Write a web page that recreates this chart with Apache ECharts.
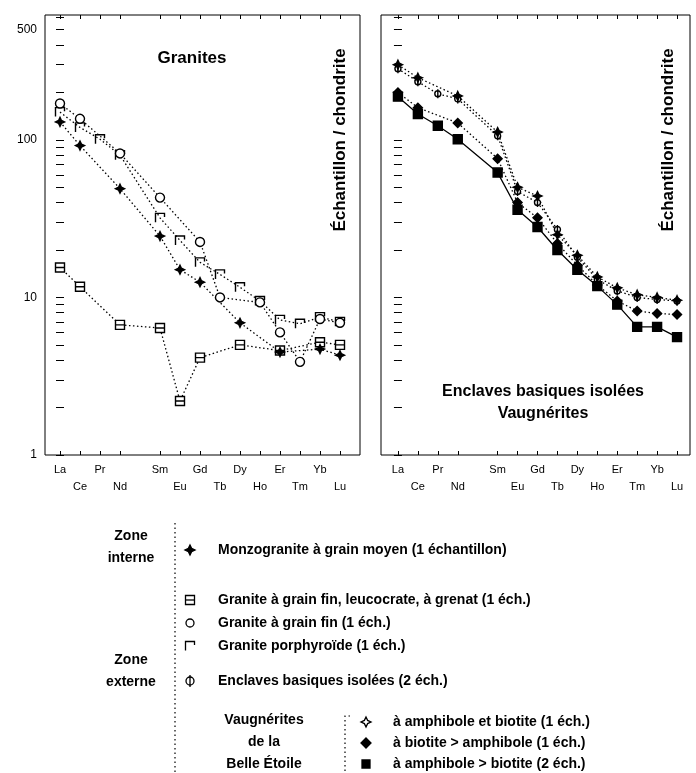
<!DOCTYPE html>
<html><head><meta charset="utf-8">
<script src="https://cdn.jsdelivr.net/npm/echarts@6/dist/echarts.min.js"></script>
<style>html,body{margin:0;padding:0;background:#fff}#c{width:696px;height:773px}</style>
</head><body><div id="c"></div>
<script>
// Rare earth elements (Pm not analysed, no label)
const elements = ['La','Ce','Pr','Nd','Pm','Sm','Eu','Gd','Tb','Dy','Ho','Er','Tm','Yb','Lu'];
const unlabelled = ['Pm'];
const yTickLabels = [1, 10, 100, 500];
const yTicks = [1,2,3,4,5,6,7,8,9,10,20,30,40,50,60,70,80,90,100,200,300,400,500,600];

// Granites (sample / chondrite)
const monzogranite   = [130, 92, null, 49, null, 24.5, 15, 12.5, null, 6.9, null, 4.5, null, 4.7, 4.3];
const leucoGrenat    = [15.5, 11.7, null, 6.7, null, 6.4, 2.2, 4.15, null, 5.0, null, 4.6, null, 5.2, 5.0];
const grainFin       = [170, 136, null, 82, null, 43, null, 22.5, 10, null, 9.3, 6.0, 3.9, 7.3, 6.9];
const porphyroide    = [150, 120, 101, 80, null, 32, 23, 16.7, 14, 11.6, 9.5, 7.2, 6.8, 7.5, 7.0];

// Enclaves basiques isolées / vaugnérites
const enclaves       = [283, 234, 196, 182, null, 106, 47, 40, 27, 18, 13, 11, 10, 9.7, 9.5];
const vaugAmphBio    = [300, 248, null, 190, null, 112, 50, 44, 25, 18.5, 13.5, 11.5, 10.4, 10, 9.6];
const vaugBioAmph    = [200, 160, null, 128, null, 76, 40, 32, 22, 16, 12, 9.5, 8.2, 7.9, 7.8];
const vaugAmphBio2   = [188, 146, 123, 101, null, 62, 36, 28, 20, 15, 11.8, 9.0, 6.5, 6.5, 5.6];

const names = {
  monzogranite: 'Monzogranite à grain moyen (1 échantillon)',
  leucoGrenat: 'Granite à grain fin, leucocrate, à grenat (1 éch.)',
  grainFin: 'Granite à grain fin (1 éch.)',
  porphyroide: 'Granite porphyroïde (1 éch.)',
  enclaves: 'Enclaves basiques isolées (2 éch.)',
  vaugAmphBio: 'à amphibole et biotite (1 éch.)',
  vaugBioAmph: 'à biotite > amphibole (1 éch.)',
  vaugAmphBio2: 'à amphibole > biotite (2 éch.)'
};

const P = {
  star: 'M5,0L6.6,3.4L10,5L6.6,6.6L5,10L3.4,6.6L0,5L3.4,3.4Z',
  boxLine: 'M0,0H10V10H0Z M0,5H10',
  gamma: 'M0,10V0H10V4',
  circlePlus: 'M5,1A4,4 0 1 1 4.99,1Z M5,-1V11',
  diamond: 'M5,0L10,5L5,10L0,5Z',
  square: 'M0,0H10V10H0Z',
  circle: 'M5,1A4,4 0 1 1 4.99,1Z'
};

const FONT = '"Liberation Sans", Arial, sans-serif';
const idx = elements.map((e, i) => i);
const labelIdx = idx.filter(i => unlabelled.indexOf(elements[i]) < 0);

function pairs(vals) { return vals.map((v, i) => [i, v]).filter(d => d[1] != null); }

function xAxes(grid, min, max) {
  const base = {
    gridIndex: grid, type: 'value', min: min, max: max,
    splitLine: { show: false }, axisLine: { show: false },
    axisTick: { show: true, inside: true, length: 4, customValues: labelIdx, lineStyle: { color: '#000' } }
  };
  return [
    Object.assign({}, base, {
      position: 'bottom',
      axisLabel: {
        show: true, customValues: labelIdx, margin: 6, lineHeight: 17,
        color: '#000', fontSize: 11, fontFamily: FONT,
        formatter: v => { const k = labelIdx.indexOf(Math.round(v)); const n = elements[Math.round(v)]; return k % 2 === 0 ? n : '\n' + n; }
      }
    }),
    Object.assign({}, base, { position: 'top', axisLabel: { show: false } })
  ];
}
function yAxes(grid, labels) {
  const base = {
    gridIndex: grid, type: 'log', logBase: 10, min: 1, max: 620,
    splitLine: { show: false }, axisLine: { show: false },
    axisTick: { show: true, inside: true, length: 4, customValues: yTicks, lineStyle: { color: '#000' } }
  };
  return [
    Object.assign({}, base, {
      position: 'left',
      axisLabel: labels ? { show: true, customValues: yTickLabels, color: '#000', fontSize: 12, fontFamily: FONT, margin: 8 } : { show: false }
    }),
    Object.assign({}, base, { position: 'right', axisLabel: { show: false } })
  ];
}

function ser(name, vals, grid, sym, fill, dash) {
  return {
    name: name, type: 'line', xAxisIndex: grid * 2, yAxisIndex: grid * 2,
    data: pairs(vals), symbol: 'path://' + sym, symbolSize: 9, symbolKeepAspect: true,
    lineStyle: { color: '#000', width: 1.3, type: dash },
    itemStyle: { color: fill, borderColor: '#000', borderWidth: 1.4 },
    emphasis: { disabled: true }, animation: false, z: 3
  };
}

const dots = [1.5, 2.5];
const series = [
  ser(names.leucoGrenat, leucoGrenat, 0, P.boxLine, '#fff', dots),
  ser(names.porphyroide, porphyroide, 0, P.gamma, 'rgba(0,0,0,0)', dots),
  ser(names.grainFin, grainFin, 0, P.circle, '#fff', dots),
  ser(names.monzogranite, monzogranite, 0, P.star, '#000', dots),
  ser(names.enclaves, enclaves, 1, P.circlePlus, '#fff', dots),
  ser(names.vaugAmphBio, vaugAmphBio, 1, P.star, '#000', dots),
  ser(names.vaugBioAmph, vaugBioAmph, 1, P.diamond, '#000', dots),
  ser(names.vaugAmphBio2, vaugAmphBio2, 1, P.square, '#000', 'solid')
];

function txt(x, y, s, size, align, extra) {
  return Object.assign({
    type: 'text', x: x, y: y, silent: true,
    style: { text: s, fill: '#000', font: 'bold ' + size + 'px ' + FONT, align: align || 'left', verticalAlign: 'middle', lineHeight: 22 }
  }, extra || {});
}
// legend symbols built from graphic primitives
function sym(x, y, kind, fill) {
  const st = { fill: fill, stroke: '#000', lineWidth: 1.3 };
  const ln = { stroke: '#000', lineWidth: 1.3 };
  let children = [];
  if (kind === 'star') children = [{ type: 'polygon', shape: { points: [[0,-5],[1.6,-1.6],[5,0],[1.6,1.6],[0,5],[-1.6,1.6],[-5,0],[-1.6,-1.6]] }, style: st }];
  else if (kind === 'boxLine') children = [{ type: 'rect', shape: { x: -4.5, y: -4.5, width: 9, height: 9 }, style: st }, { type: 'line', shape: { x1: -4.5, y1: 0, x2: 4.5, y2: 0 }, style: ln }];
  else if (kind === 'circle') children = [{ type: 'circle', shape: { cx: 0, cy: 0, r: 4 }, style: st }];
  else if (kind === 'gamma') children = [{ type: 'polyline', shape: { points: [[-4.5,4.5],[-4.5,-4.5],[4.5,-4.5],[4.5,-1]] }, style: ln }];
  else if (kind === 'circlePlus') children = [{ type: 'circle', shape: { cx: 0, cy: 0, r: 4 }, style: st }, { type: 'line', shape: { x1: 0, y1: -6, x2: 0, y2: 6 }, style: ln }];
  else if (kind === 'diamond') children = [{ type: 'polygon', shape: { points: [[0,-5],[5,0],[0,5],[-5,0]] }, style: st }];
  else if (kind === 'square') children = [{ type: 'rect', shape: { x: -4, y: -4, width: 8, height: 8 }, style: st }];
  return { type: 'group', x: x, y: y, silent: true, children: children };
}
function vline(x, y1, y2) {
  return { type: 'line', silent: true, shape: { x1: x, y1: y1, x2: x, y2: y2 }, style: { stroke: '#000', lineWidth: 1.2, lineDash: [1.5, 3] } };
}

const graphic = [
  txt(192, 58, 'Granites', 17, 'center'),
  txt(543, 403, 'Enclaves basiques isolées\nVaugnérites', 16, 'center'),
  txt(340, 140, 'Échantillon / chondrite', 17, 'center', { rotation: Math.PI / 2 }),
  txt(668, 140, 'Échantillon / chondrite', 17, 'center', { rotation: Math.PI / 2 }),
  // legend
  vline(175, 523, 773),
  txt(131, 547, 'Zone\ninterne', 14, 'center'),
  sym(190, 550, 'star', '#000'), txt(218, 550, names.monzogranite, 14),
  sym(190, 600, 'boxLine', '#fff'), txt(218, 600, names.leucoGrenat, 14),
  sym(190, 623, 'circle', '#fff'), txt(218, 623, names.grainFin, 14),
  sym(190, 646, 'gamma', null), txt(218, 646, names.porphyroide, 14),
  txt(131, 671, 'Zone\nexterne', 14, 'center'),
  sym(190, 681, 'circlePlus', '#fff'), txt(218, 681, names.enclaves, 14),
  txt(264, 742, 'Vaugnérites\nde la\nBelle Étoile', 14, 'center'),
  { type: 'polyline', silent: true, shape: { points: [[350, 716], [345, 716], [345, 773]] }, style: { stroke: '#000', lineWidth: 1.2, lineDash: [1.5, 3] } },
  sym(366, 722, 'star', '#fff'), txt(393, 722, names.vaugAmphBio, 14),
  sym(366, 743, 'diamond', '#000'), txt(393, 743, names.vaugBioAmph, 14),
  sym(366, 764, 'square', '#000'), txt(393, 764, names.vaugAmphBio2, 14)
];

const chart = echarts.init(document.getElementById('c'));
chart.setOption({
  backgroundColor: '#fff',
  animation: false,
  grid: [
    { left: 45, top: 15, width: 315, height: 440, show: true, borderColor: '#000', borderWidth: 1, backgroundColor: 'transparent' },
    { left: 381, top: 15, width: 309, height: 440, show: true, borderColor: '#000', borderWidth: 1, backgroundColor: 'transparent' }
  ],
  xAxis: xAxes(0, -0.75, 15).concat(xAxes(1, -0.85, 14.65)),
  yAxis: yAxes(0, true).concat(yAxes(1, false)),
  series: series,
  graphic: graphic
});
</script></body></html>
